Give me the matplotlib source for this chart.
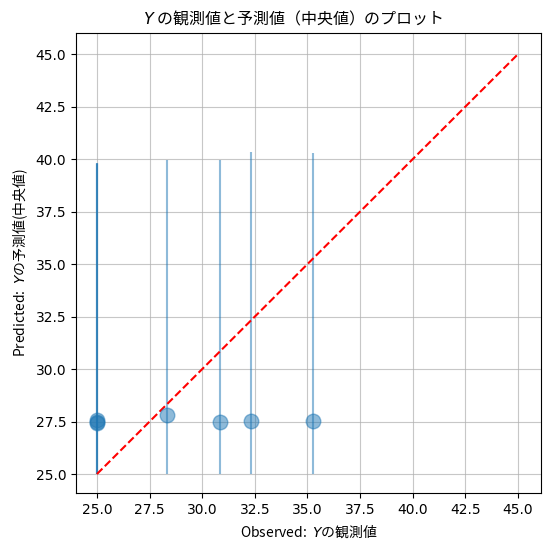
import matplotlib
matplotlib.use("Agg")
import matplotlib.pyplot as plt
import numpy as np

plt.rcParams['font.family'] = ['DejaVu Sans']
plt.rcParams['mathtext.fontset'] = 'dejavusans'
JP = ['Noto Sans CJK JP']

observed = [25.0, 25.0, 25.0, 28.32, 30.85, 32.3, 35.25]
pred_median = [27.45, 27.55, 27.5, 27.8, 27.48, 27.53, 27.53]
pred_lower = [25.0, 25.0, 25.0, 25.0, 25.0, 25.0, 25.0]
pred_upper = [39.8, 39.75, 39.8, 39.98, 39.98, 40.35, 40.3]
diag = [25, 45]

obs = np.array(observed)
med = np.array(pred_median)
lo = np.array(pred_lower)
up = np.array(pred_upper)

fig = plt.figure(figsize=(5.5, 5.52), dpi=100)
ax = fig.add_axes([0.138, 0.107, 0.846, 0.833])
ax.errorbar(obs, med, yerr=[med - lo, up - med], fmt='o', alpha=0.5,
            markersize=10.5, color='C0')
ax.plot(diag, diag, 'r--')
ax.grid(True, alpha=0.7)
ax.set_xlabel('Observed:  $Y$の観測値', family=JP)
ax.set_ylabel('Predicted:  $Y$の予測値(中央値)', family=JP)
ax.set_title('$Y$ の観測値と予測値（中央値）のプロット', family=JP,
             fontsize=11.5, x=0.468)
ax.set_xlim(24.0, 46.1)
ax.set_ylim(24.1, 46.0)
ax.set_xticks(np.arange(25, 45.1, 2.5))
ax.set_yticks(np.arange(25, 45.1, 2.5))
fig.savefig('out.png', dpi=100)
